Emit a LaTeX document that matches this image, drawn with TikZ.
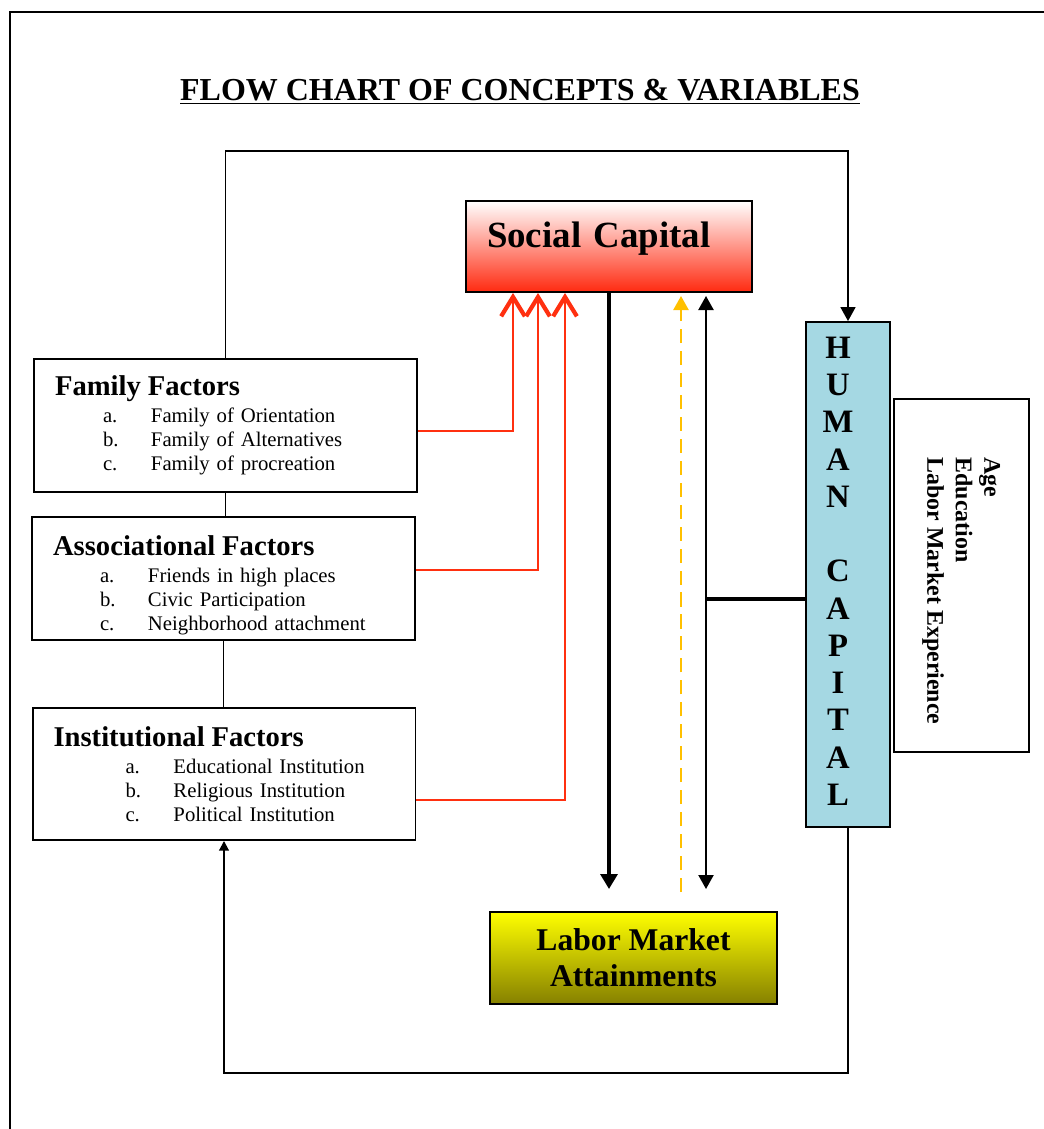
\documentclass[tikz,border=0pt]{standalone}
\usepackage{fontspec}
\setmainfont{Liberation Serif}
\usetikzlibrary{calc,arrows.meta}
\definecolor{capred}{HTML}{FF2A10}
\definecolor{capblue}{HTML}{A5D8E3}
\definecolor{capyellow}{HTML}{FFFF00}
\definecolor{capolive}{HTML}{858000}
\definecolor{linkred}{HTML}{FF3010}
\definecolor{linkgold}{HTML}{FFC000}
\tikzset{
  frame/.style={draw=black, line width=1.1pt},
  box/.style={draw=black, line width=1.1pt, inner sep=0pt},
  factor/.style={box, align=left, inner xsep=0.42cm, text width=6.82cm,
    font=\fontsize{11.8}{13.6}\selectfont},
  loopline/.style={draw=black, line width=1.1pt},
  redlink/.style={draw=linkred, line width=1.2pt,
    -{Straight Barb[length=11pt,width=13.5pt,line width=2.4pt]}},
  bigarrow/.style={draw=black, line width=2.6pt, -{Triangle[length=8.5pt,width=9.5pt]}},
  goldlink/.style={draw=linkgold, line width=1.5pt, dash pattern=on 8pt off 4.5pt,
    -{Triangle[length=8pt,width=8.5pt]}},
  duplex/.style={draw=black, line width=1.4pt,
    {Triangle[length=8pt,width=8.5pt]}-{Triangle[length=8pt,width=8.5pt]}},
  hlinkline/.style={draw=black, line width=1.8pt},
}
\newcommand{\fhead}[1]{{\fontsize{16.3}{17}\selectfont\bfseries #1}}
\newcommand{\fitem}[3]{\hspace*{#1}\makebox[0.96cm][l]{#2}#3}

\begin{document}
\begin{tikzpicture}[x=0.02cm, y=-0.02cm]
  \useasboundingbox (0,0) rectangle (1044,1129);
  \draw[frame] (10,1129) -- (10,12) -- (1044,12);

  \node[anchor=base, font=\fontsize{18.2}{20}\selectfont\bfseries] (title) at (520,100)
    {\underline{FLOW CHART OF CONCEPTS \& VARIABLES}};

  % main boxes
  \node[box, top color=white, bottom color=capred, text width=4.88cm, inner xsep=0.42cm,
    align=left, text height=0.92cm, text depth=0.9cm,
    font=\fontsize{21}{24}\selectfont\bfseries] (sc) at (609,246.5) {Social Capital};

  \node[box, fill=capblue, minimum width=1.68cm, minimum height=10.1cm,
    font=\fontsize{18.6}{21.2}\selectfont\bfseries] (hc) at (848,574.5)
    {\begin{tabular}{@{}c@{\hspace{0.4cm}}}H\\U\\M\\A\\N\\ \\C\\A\\P\\I\\T\\A\\L\end{tabular}};

  \node[box, rotate=-90, minimum width=7.06cm, minimum height=2.7cm,
    font=\fontsize{13.6}{16.2}\selectfont\bfseries] (exp) at (961.5,575.5)
    {\begin{tabular}{@{\hspace{0.62cm}}l@{}}Age\\Education\\Labor Market Experience\end{tabular}};

  \node[box, top color=capyellow, bottom color=capolive, minimum width=5.74cm,
    minimum height=1.84cm, align=center, font=\fontsize{18}{20.4}\selectfont\bfseries]
    (lma) at (633.5,958) {Labor Market\\Attainments};

  % factor boxes
  \node[factor, minimum height=2.66cm] (fam) at (225.5,425.5)
    {\fhead{Family Factors}\\[0.06cm]
     \fitem{0.96cm}{a.}{Family of Orientation}\\
     \fitem{0.96cm}{b.}{Family of Alternatives}\\
     \fitem{0.96cm}{c.}{Family of procreation}};
  \node[factor, minimum height=2.46cm] (assoc) at (223.5,578.5)
    {\rule{0pt}{0.66cm}\fhead{Associational Factors}\\[0.06cm]
     \fitem{0.94cm}{a.}{Friends in high places}\\
     \fitem{0.94cm}{b.}{Civic Participation}\\
     \fitem{0.94cm}{c.}{Neighborhood attachment}};
  \node[factor, minimum height=2.64cm] (inst) at (224,774)
    {\fhead{Institutional Factors}\\[0.06cm]
     \fitem{1.44cm}{a.}{Educational Institution}\\
     \fitem{1.44cm}{b.}{Religious Institution}\\
     \fitem{1.44cm}{c.}{Political Institution}};

  % outer loop
  \coordinate (looptop) at (0,151);
  \coordinate (loopbot) at (0,1073);
  \draw[loopline, -{Triangle[length=8pt,width=8.5pt]}] (fam.north) -- (fam.north |- looptop) -| (hc.north);
  \draw[loopline] (fam.south) -- (fam.south |- assoc.north);
  \draw[loopline] (assoc.south) -- (assoc.south |- inst.north);
  \draw[loopline, -{Triangle[length=5.5pt,width=5.5pt]}] (hc.south) -- (hc.south |- loopbot) -| (inst.south);

  % factors into social capital
  \coordinate (ra) at (513,0);
  \coordinate (rb) at (538,0);
  \coordinate (rc) at (565,0);
  \draw[redlink] ($(fam.east)+(0,5.5)$) -| (sc.south -| ra);
  \draw[redlink] ($(assoc.east)+(0,-8.5)$) -| (sc.south -| rb);
  \draw[redlink] ($(inst.east)+(0,26)$) -| (sc.south -| rc);

  % links to labor market
  \coordinate (xa) at (609,0);
  \coordinate (xy) at (681,0);
  \coordinate (xd) at (706,0);
  \draw[bigarrow, shorten >=0.44cm] (sc.south -| xa) -- (lma.north -| xa);
  \draw[goldlink, shorten <=0.38cm, shorten >=0.06cm] (lma.north -| xy) -- (sc.south -| xy);
  \draw[duplex, shorten <=0.06cm, shorten >=0.44cm] (sc.south -| xd) -- (lma.north -| xd);
  \coordinate (hlink) at (706,599);
  \draw[hlinkline] (hlink) -- (hlink -| hc.west);
\end{tikzpicture}
\end{document}
